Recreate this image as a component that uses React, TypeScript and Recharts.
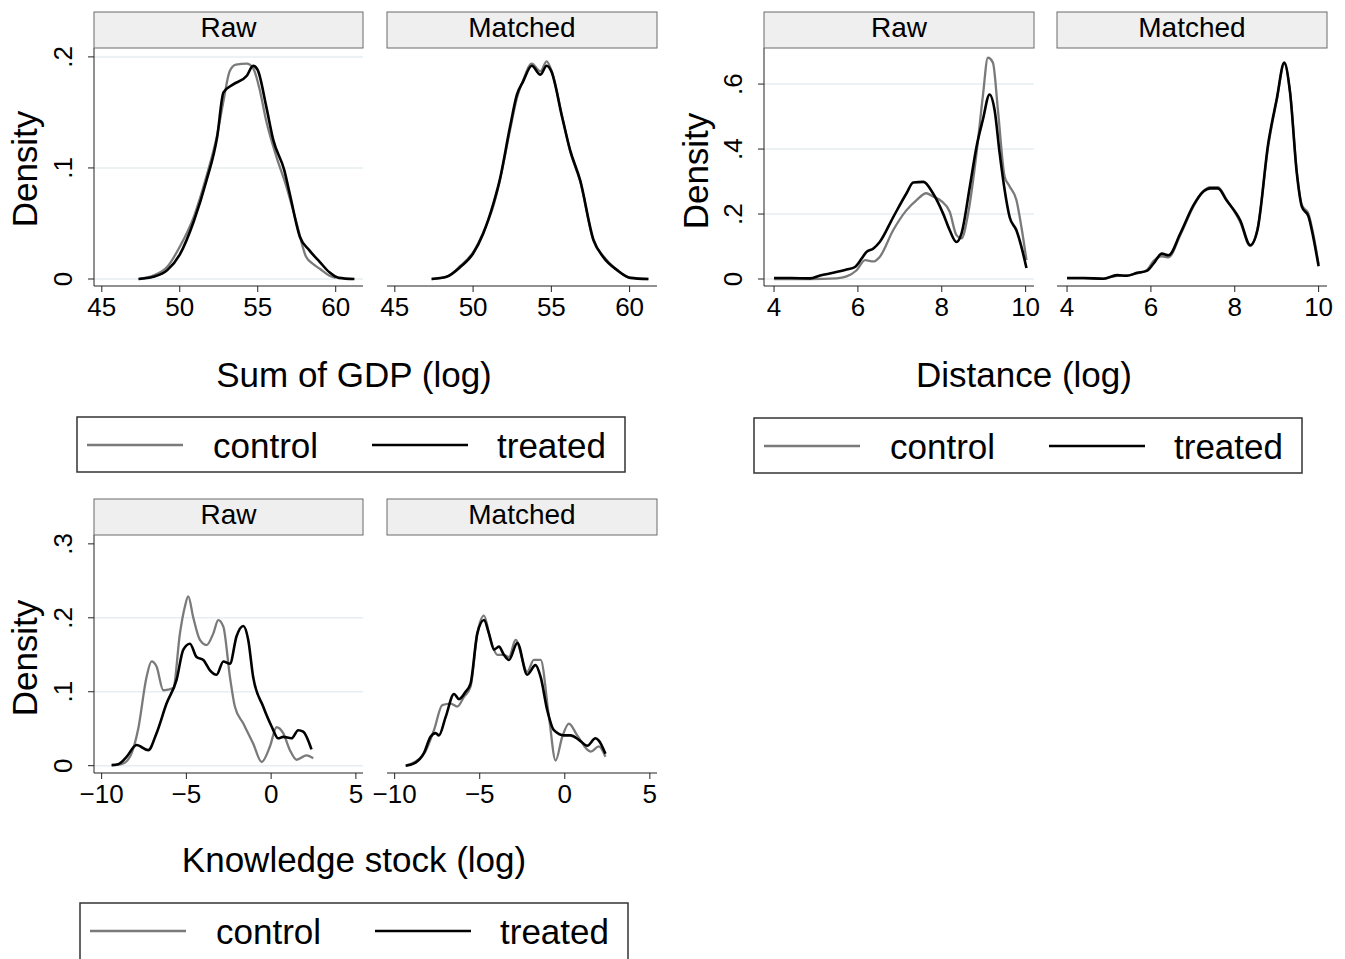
import React from "react";
import { LineChart, Line, XAxis, YAxis, CartesianGrid } from "recharts";

const FONT = '"Liberation Sans", Arial, Helvetica, sans-serif';
const CONTROL = "#7a7a7a";
const TREATED = "#000000";
const GRID = "#e6eef1";
const AXIS = "#222222";

// ---- Sum of GDP (log) ----
const gdpTicksX = [45, 50, 55, 60];
const gdpTicksY = [0, 0.1, 0.2];
const gdpRawControlX = [47.4, 48.3, 49.2, 50.0, 50.9, 51.7, 52.4, 52.8, 53.2, 53.6, 54.3, 54.7, 55.1, 55.55, 56.2, 56.8, 57.5, 58.1, 58.6, 59.0, 59.6, 60.0];
const gdpRawControlY = [0, 0.003, 0.011, 0.029, 0.056, 0.092, 0.13, 0.16, 0.187, 0.193, 0.194, 0.19, 0.172, 0.142, 0.11, 0.085, 0.05, 0.02, 0.013, 0.009, 0.003, 0.001];
const gdpRawTreatedX = [47.35, 48.3, 49.2, 50.0, 50.9, 51.7, 52.4, 52.8, 53.4, 54.3, 54.7, 55.0, 55.55, 56.0, 56.7, 57.05, 57.7, 58.3, 59.0, 59.6, 60.2, 61.2];
const gdpRawTreatedY = [0, 0.002, 0.008, 0.022, 0.052, 0.088, 0.128, 0.168, 0.175, 0.183, 0.192, 0.188, 0.155, 0.125, 0.098, 0.077, 0.038, 0.026, 0.015, 0.006, 0.001, 0];
const gdpMatchedX = [47.35, 48.3, 49.2, 50.0, 50.65, 51.3, 51.7, 52.36, 52.8, 53.2, 53.75, 54.3, 54.7, 55.0, 55.7, 56.2, 56.84, 57.7, 58.3, 59.2, 60.04, 61.2];
const gdpMatchedControlY = [0, 0.002, 0.012, 0.024, 0.042, 0.066, 0.088, 0.134, 0.163, 0.179, 0.194, 0.187, 0.196, 0.188, 0.146, 0.115, 0.088, 0.034, 0.021, 0.008, 0.001, 0];
const gdpMatchedTreatedY = [0, 0.002, 0.011, 0.023, 0.041, 0.068, 0.089, 0.137, 0.166, 0.178, 0.192, 0.184, 0.192, 0.187, 0.145, 0.116, 0.089, 0.035, 0.02, 0.008, 0.001, 0];

// ---- Distance (log) ----
const distTicksX = [4, 6, 8, 10];
const distTicksY = [0, 0.2, 0.4, 0.6];
const distRawControlX = [4.0, 4.86, 5.49, 5.73, 5.97, 6.17, 6.37, 6.52, 6.84, 7.16, 7.4, 7.63, 7.79, 7.99, 8.19, 8.35, 8.47, 8.63, 8.83, 8.98, 9.1, 9.22, 9.34, 9.5, 9.62, 9.78, 9.9, 10.02];
const distRawControlY = [0, 0, 0.002, 0.008, 0.027, 0.058, 0.054, 0.068, 0.15, 0.212, 0.243, 0.264, 0.254, 0.24, 0.207, 0.135, 0.125, 0.202, 0.388, 0.563, 0.681, 0.666, 0.52, 0.315, 0.285, 0.243, 0.16, 0.058];
const distRawTreatedX = [4.0, 4.4, 4.86, 5.1, 5.41, 5.73, 5.93, 6.09, 6.2, 6.37, 6.52, 6.84, 7.16, 7.32, 7.56, 7.79, 8.03, 8.19, 8.35, 8.47, 8.67, 8.83, 8.98, 9.14, 9.26, 9.38, 9.5, 9.62, 9.78, 9.9, 10.02];
const distRawTreatedY = [0.003, 0.003, 0.002, 0.011, 0.019, 0.029, 0.037, 0.063, 0.083, 0.094, 0.114, 0.19, 0.264, 0.297, 0.299, 0.264, 0.202, 0.15, 0.114, 0.14, 0.285, 0.408, 0.49, 0.568, 0.52, 0.388, 0.274, 0.19, 0.15, 0.099, 0.034];
const distMatchedX = [4.0, 4.4, 4.87, 5.19, 5.43, 5.67, 5.9, 6.06, 6.26, 6.42, 6.7, 7.02, 7.25, 7.41, 7.6, 7.8, 8.13, 8.37, 8.54, 8.8, 9.0, 9.18, 9.32, 9.48, 9.6, 9.76, 9.87, 10.0];
const distMatchedControlY = [0.002, 0.002, 0.001, 0.01, 0.011, 0.017, 0.027, 0.055, 0.07, 0.067, 0.135, 0.225, 0.27, 0.283, 0.283, 0.245, 0.175, 0.102, 0.153, 0.41, 0.55, 0.662, 0.575, 0.33, 0.228, 0.2, 0.14, 0.045];
const distMatchedTreatedY = [0.003, 0.003, 0.001, 0.012, 0.01, 0.019, 0.025, 0.047, 0.078, 0.073, 0.14, 0.228, 0.269, 0.279, 0.279, 0.243, 0.181, 0.104, 0.15, 0.419, 0.553, 0.666, 0.573, 0.326, 0.223, 0.192, 0.13, 0.039];

// ---- Knowledge stock (log) ----
const knowTicksX = [-10, -5, 0, 5];
const knowTicksY = [0, 0.1, 0.2, 0.3];
const knowGridY = [0, 0.1, 0.2];
const knowRawControlX = [-9.41, -8.72, -8.23, -7.84, -7.35, -7.05, -6.76, -6.36, -6.07, -5.77, -5.38, -5.09, -4.89, -4.59, -4.2, -3.81, -3.41, -3.12, -2.82, -2.43, -2.14, -1.64, -1.06, -0.56, -0.07, 0.32, 0.71, 1.11, 1.5, 2.09, 2.48];
const knowRawControlY = [0, 0.003, 0.017, 0.05, 0.12, 0.141, 0.134, 0.102, 0.103, 0.105, 0.179, 0.215, 0.229, 0.2, 0.17, 0.163, 0.179, 0.197, 0.188, 0.12, 0.08, 0.057, 0.03, 0.005, 0.026, 0.052, 0.044, 0.021, 0.008, 0.014, 0.01];
const knowRawTreatedX = [-9.41, -9.02, -8.53, -7.94, -7.25, -6.76, -6.17, -5.58, -5.18, -4.79, -4.4, -4.0, -3.61, -3.22, -2.82, -2.43, -2.04, -1.64, -1.35, -1.06, -0.47, 0.03, 0.42, 0.71, 1.2, 1.6, 1.89, 2.38];
const knowRawTreatedY = [0.001, 0.002, 0.012, 0.028, 0.021, 0.044, 0.084, 0.116, 0.157, 0.165, 0.147, 0.143, 0.129, 0.123, 0.141, 0.138, 0.175, 0.189, 0.17, 0.12, 0.08, 0.053, 0.037, 0.039, 0.037, 0.048, 0.046, 0.022];
const knowMatchedControlX = [-9.35, -8.28, -7.69, -7.2, -6.71, -6.32, -5.93, -5.54, -5.14, -4.75, -4.36, -3.97, -3.58, -3.28, -2.89, -2.21, -1.82, -1.42, -0.93, -0.54, -0.15, 0.24, 0.73, 1.52, 2.0, 2.39];
const knowMatchedControlY = [0, 0.016, 0.048, 0.082, 0.084, 0.08, 0.093, 0.107, 0.179, 0.203, 0.17, 0.15, 0.15, 0.147, 0.17, 0.127, 0.143, 0.143, 0.066, 0.007, 0.039, 0.057, 0.041, 0.019, 0.026, 0.012];
const knowMatchedTreatedX = [-9.35, -8.86, -8.28, -7.89, -7.59, -7.4, -7.0, -6.51, -6.22, -5.83, -5.54, -5.14, -4.75, -4.46, -4.16, -3.87, -3.58, -3.28, -2.79, -2.21, -1.72, -1.42, -1.03, -0.64, -0.05, 0.34, 0.83, 1.32, 1.81, 2.0, 2.39];
const knowMatchedTreatedY = [0, 0.003, 0.017, 0.039, 0.044, 0.041, 0.066, 0.097, 0.09, 0.1, 0.111, 0.179, 0.197, 0.179, 0.157, 0.161, 0.15, 0.143, 0.166, 0.123, 0.136, 0.12, 0.075, 0.048, 0.041, 0.041, 0.035, 0.027, 0.037, 0.034, 0.016];

const legendLabels = ["control", "treated"];

const pts = (xs: number[], ys: number[]) => xs.map((x, i) => ({ x, y: ys[i] }));
const fmtX = (v: number) => (v < 0 ? `\u2212${-v}` : `${v}`);
const fmtY = (v: number) => (v === 0 ? "0" : `${v}`.replace(/^0/, ""));

const RotTick = (props: any) => {
  const { x, y, payload } = props;
  const bx = x - 14;
  return (
    <text x={bx} y={y} transform={`rotate(-90 ${bx} ${y})`} textAnchor="middle"
      fontSize={26} fontFamily={FONT} fill="#000">
      {fmtY(payload.value)}
    </text>
  );
};

interface PanelProps {
  pl: number; pr: number; pt: number; pb: number;
  xDomain: [number, number]; xTicks: number[];
  yDomain: [number, number]; yTicks: number[]; yGrid: number[];
  control: { x: number; y: number }[];
  treated: { x: number; y: number }[];
  showY: boolean;
}

function DensityPanel({ pl, pr, pt, pb, xDomain, xTicks, yDomain, yTicks, yGrid, control, treated, showY }: PanelProps) {
  const yW = showY ? 94 : 0;
  const mL = showY ? 0 : 18;
  const mR = 18;
  const mT = 24; // room for the top rotated tick label
  const w = pr - pl + yW + mL + mR;
  const h = pb - pt + 44 + mT;
  return (
    <div style={{ position: "absolute", left: pl - yW - mL, top: pt - mT }}>
      <LineChart width={w} height={h} margin={{ top: mT, right: mR, bottom: 0, left: mL }}>
        <CartesianGrid vertical={false} horizontalValues={yGrid} stroke={GRID} strokeWidth={1.5} />
        <XAxis type="number" dataKey="x" domain={xDomain} ticks={xTicks} allowDataOverflow interval={0}
          height={44} tickSize={6} tickMargin={6} tickFormatter={fmtX}
          tick={{ fontSize: 26, fill: "#000", fontFamily: FONT }}
          axisLine={{ stroke: AXIS }} tickLine={{ stroke: AXIS }} />
        {showY ? (
          <YAxis type="number" dataKey="y" domain={yDomain} ticks={yTicks} allowDataOverflow interval={0}
            width={yW} tickSize={6} tickMargin={2} tick={RotTick}
            axisLine={{ stroke: AXIS }} tickLine={{ stroke: AXIS }} />
        ) : (
          <YAxis type="number" dataKey="y" domain={yDomain} ticks={yTicks} allowDataOverflow
            width={0} tick={false} axisLine={false} tickLine={false} />
        )}
        <Line data={control} dataKey="y" type="monotone" stroke={CONTROL} strokeWidth={2.3}
          dot={false} isAnimationActive={false} />
        <Line data={treated} dataKey="y" type="monotone" stroke={TREATED} strokeWidth={2.6}
          dot={false} isAnimationActive={false} />
      </LineChart>
    </div>
  );
}

const gdpX: [number, number] = [44.5, 61.75];
const gdpY: [number, number] = [-0.0063, 0.208];
const distX: [number, number] = [3.76, 10.2];
const distY: [number, number] = [-0.0215, 0.711];
const knowX: [number, number] = [-10.45, 5.42];
const knowY: [number, number] = [-0.0099, 0.312];

const panels: (PanelProps & { title: string })[] = [
  { title: "Raw", pl: 94, pr: 363, pt: 48, pb: 286, xDomain: gdpX, xTicks: gdpTicksX, yDomain: gdpY, yTicks: gdpTicksY, yGrid: gdpTicksY,
    control: pts(gdpRawControlX, gdpRawControlY), treated: pts(gdpRawTreatedX, gdpRawTreatedY), showY: true },
  { title: "Matched", pl: 387, pr: 657, pt: 48, pb: 286, xDomain: gdpX, xTicks: gdpTicksX, yDomain: gdpY, yTicks: gdpTicksY, yGrid: gdpTicksY,
    control: pts(gdpMatchedX, gdpMatchedControlY), treated: pts(gdpMatchedX, gdpMatchedTreatedY), showY: false },
  { title: "Raw", pl: 764, pr: 1034, pt: 48, pb: 286, xDomain: distX, xTicks: distTicksX, yDomain: distY, yTicks: distTicksY, yGrid: distTicksY,
    control: pts(distRawControlX, distRawControlY), treated: pts(distRawTreatedX, distRawTreatedY), showY: true },
  { title: "Matched", pl: 1057, pr: 1327, pt: 48, pb: 286, xDomain: distX, xTicks: distTicksX, yDomain: distY, yTicks: distTicksY, yGrid: distTicksY,
    control: pts(distMatchedX, distMatchedControlY), treated: pts(distMatchedX, distMatchedTreatedY), showY: false },
  { title: "Raw", pl: 94, pr: 363, pt: 535, pb: 773, xDomain: knowX, xTicks: knowTicksX, yDomain: knowY, yTicks: knowTicksY, yGrid: knowGridY,
    control: pts(knowRawControlX, knowRawControlY), treated: pts(knowRawTreatedX, knowRawTreatedY), showY: true },
  { title: "Matched", pl: 387, pr: 657, pt: 535, pb: 773, xDomain: knowX, xTicks: knowTicksX, yDomain: knowY, yTicks: knowTicksY, yGrid: knowGridY,
    control: pts(knowMatchedControlX, knowMatchedControlY), treated: pts(knowMatchedTreatedX, knowMatchedTreatedY), showY: false },
];

// axis titles, "Density" labels and legend boxes
const groups = [
  { title: "Sum of GDP (log)", tx: 354, ty: 387, dx: 37, dy: 169, lx: 77, ly: 417 },
  { title: "Distance (log)", tx: 1024, ty: 387, dx: 708, dy: 171, lx: 754, ly: 418 },
  { title: "Knowledge stock (log)", tx: 354, ty: 872, dx: 37, dy: 658, lx: 80, ly: 903 },
];

export default function App() {
  return (
    <div style={{ position: "absolute", left: 0, top: 0, width: 1345, height: 959, overflow: "hidden", background: "#fff" }}>
      {panels.map((p, i) => (
        <DensityPanel key={i} {...p} />
      ))}
      <svg width={1345} height={959} style={{ position: "absolute", left: 0, top: 0, pointerEvents: "none" }}
        fontFamily={FONT}>
        {panels.map((p, i) => (
          <g key={i}>
            <rect x={p.pl} y={p.pt - 36} width={p.pr - p.pl} height={36} fill="#efefef" stroke="#6a6a6a" strokeWidth={1} />
            <text x={(p.pl + p.pr) / 2} y={p.pt - 11} textAnchor="middle" fontSize={28} fill="#000">{p.title}</text>
          </g>
        ))}
        {groups.map((g, i) => (
          <g key={i}>
            <text x={g.tx} y={g.ty} textAnchor="middle" fontSize={35} fill="#000">{g.title}</text>
            <text x={g.dx} y={g.dy} transform={`rotate(-90 ${g.dx} ${g.dy})`} textAnchor="middle" fontSize={35} fill="#000">Density</text>
            <rect x={g.lx} y={g.ly} width={548} height={i === 2 ? 60 : 55} fill="none" stroke="#333" strokeWidth={1.5} />
            <line x1={g.lx + 10} x2={g.lx + 106} y1={g.ly + 28} y2={g.ly + 28} stroke={CONTROL} strokeWidth={2.3} />
            <text x={g.lx + 136} y={g.ly + 41} fontSize={35} fill="#000">{legendLabels[0]}</text>
            <line x1={g.lx + 295} x2={g.lx + 391} y1={g.ly + 28} y2={g.ly + 28} stroke={TREATED} strokeWidth={2.6} />
            <text x={g.lx + 420} y={g.ly + 41} fontSize={35} fill="#000">{legendLabels[1]}</text>
          </g>
        ))}
      </svg>
    </div>
  );
}
